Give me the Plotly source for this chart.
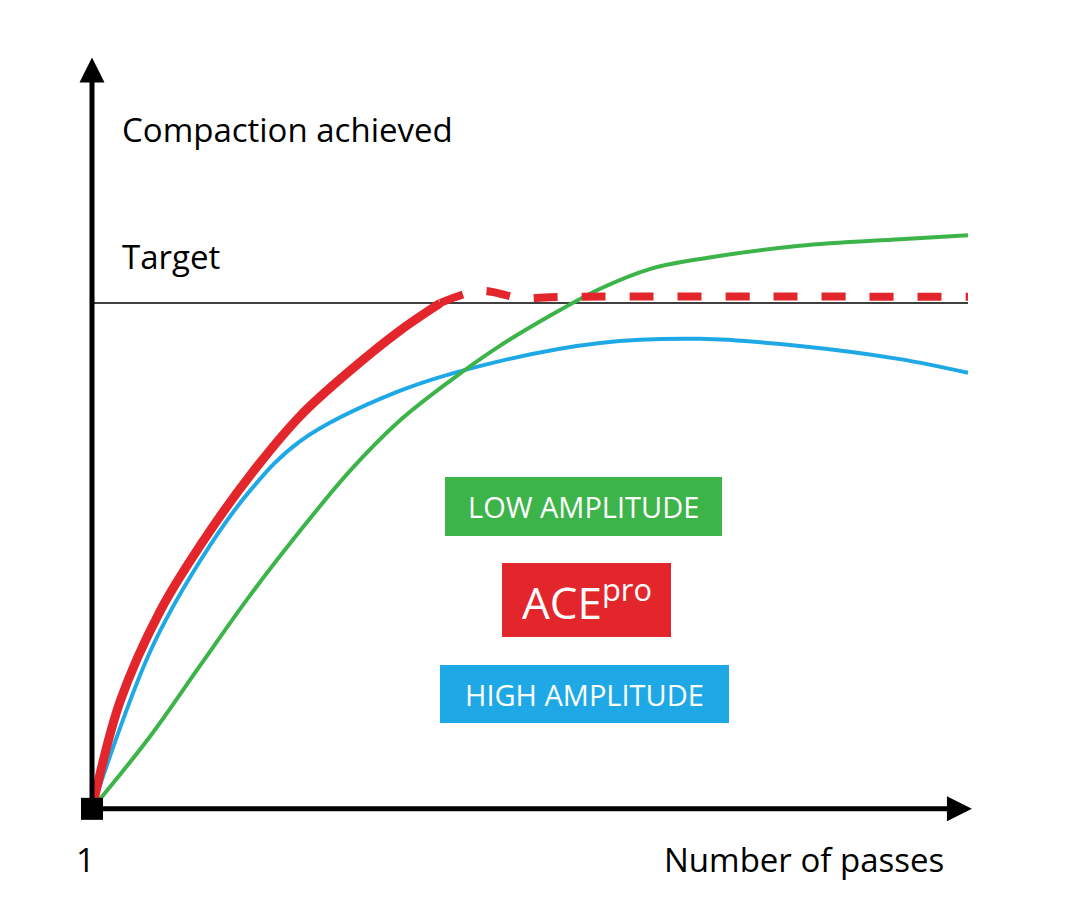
import plotly.graph_objects as go

# passes (x) and compaction (% of target, y)
ace_x = [1, 1.29, 1.70, 2.11, 2.62, 3.14, 3.65, 4.16, 4.58]
ace_y = [0, 21.3, 39.1, 52.0, 65.8, 77.7, 86.6, 94.5, 100]
ace_dash_x = [4.58, 4.99, 5.40, 5.81, 10]
ace_dash_y = [100, 102.4, 101.0, 101.2, 101.2]
high_x = [1, 1.60, 2.11, 2.62, 3.14, 4.16, 5.19, 6.22, 7.25, 8.27, 9.30, 10]
high_y = [0, 31.2, 49.0, 62.8, 72.7, 82.6, 88.5, 92.1, 92.9, 91.5, 88.9, 86.2]
low_x = [1, 1.60, 2.11, 2.62, 3.14, 3.65, 4.16, 4.68, 5.19, 5.70, 6.22, 6.73, 7.25, 8.27, 9.30, 10]
low_y = [0, 14.4, 28.3, 42.1, 55.0, 66.8, 76.7, 84.6, 91.5, 97.4, 102.8, 106.7, 108.7, 111.3, 112.6, 113.4]
target = 100

RED = "#e3262b"
GREEN = "#3cb44a"
BLUE = "#1ea9e6"
FONT = "Open Sans"

# page has an 8px body margin, shift paper positions to compensate
def px(x):
    return (x - 8) / 1070

def py(y):
    return 1 - (y - 7) / 900

fig = go.Figure()
fig.add_trace(go.Scatter(x=[1, 10], y=[target, target], mode="lines",
                         line=dict(color="black", width=1.5)))
fig.add_trace(go.Scatter(x=high_x, y=high_y, mode="lines", line=dict(color=BLUE, width=4, shape="spline")))
fig.add_trace(go.Scatter(x=low_x, y=low_y, mode="lines", line=dict(color=GREEN, width=4, shape="spline")))
fig.add_trace(go.Scatter(x=ace_x, y=ace_y, mode="lines", line=dict(color=RED, width=9, shape="spline")))
fig.add_trace(go.Scatter(x=ace_dash_x, y=ace_dash_y, mode="lines",
                         line=dict(color=RED, width=8, dash="dash", shape="spline")))

# axes as arrows
fig.add_annotation(x=10.04, y=0, ax=1, ay=0, xref="x", yref="y", axref="x", ayref="y",
                   showarrow=True, arrowhead=2, arrowsize=1, arrowwidth=5, arrowcolor="black", text="")
fig.add_annotation(x=1, y=148.5, ax=1, ay=0, xref="x", yref="y", axref="x", ayref="y",
                   showarrow=True, arrowhead=2, arrowsize=1, arrowwidth=5, arrowcolor="black", text="")
fig.add_trace(go.Scatter(x=[1], y=[0], mode="markers",
                         marker=dict(symbol="square", size=22, color="black")))

txt = dict(family=FONT, size=33, color="black")
labels = [("Compaction achieved", 120, 128, "left"),
          ("Target", 120, 256, "left"),
          ("1", 85, 858, "center"),
          ("Number of passes", 946, 858, "right")]
for label, x, y, anchor in labels:
    fig.add_annotation(x=px(x), y=py(y), xref="paper", yref="paper", text=label,
                       showarrow=False, xanchor=anchor, yanchor="middle", font=txt)

boxes = [("LOW AMPLITUDE", GREEN, 445, 722, 476, 535, 29),
         ("ACE<sup>pro</sup>", RED, 502, 671, 562, 636, 44),
         ("HIGH AMPLITUDE", BLUE, 440, 729, 664, 722, 29)]
for label, col, x0, x1, y0, y1, fs in boxes:
    fig.add_shape(type="rect", xref="paper", yref="paper", x0=px(x0), x1=px(x1),
                  y0=py(y1), y1=py(y0), fillcolor=col, line=dict(width=0), layer="above")
    fig.add_annotation(x=px((x0 + x1) / 2), y=py((y0 + y1) / 2), xref="paper", yref="paper", text=label,
                       showarrow=False, xanchor="center", yanchor="middle",
                       font=dict(family=FONT, size=fs, color="white"))

fig.update_xaxes(range=[0.137, 11.13], visible=False)
fig.update_yaxes(range=[-19.6, 158.3], visible=False)
fig.update_layout(width=1070, height=900, margin=dict(l=0, r=0, t=0, b=0),
                  plot_bgcolor="white", paper_bgcolor="white", showlegend=False)
fig.write_html("out.html")
